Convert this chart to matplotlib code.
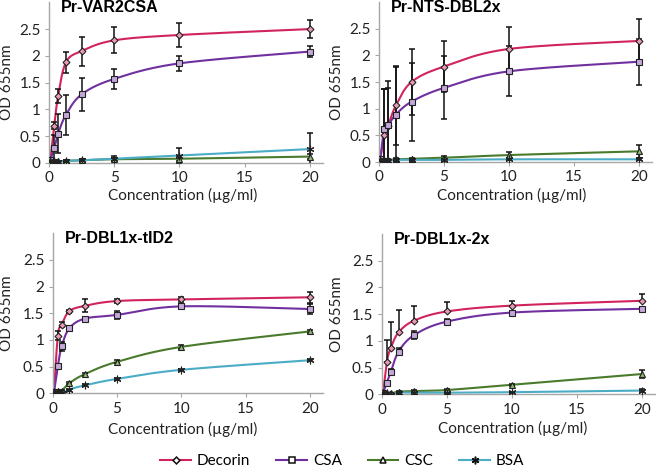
import numpy as np
import matplotlib
matplotlib.use('Agg')
import matplotlib.pyplot as plt
from matplotlib.lines import Line2D

plt.rcParams['font.family'] = ['Lato', 'DejaVu Sans']

conc = [0.1, 0.4, 0.7, 1.3, 2.5, 5, 10, 20]
series_names = ['Decorin', 'CSA', 'CSC', 'BSA']
panel_titles = ['Pr-VAR2CSA', 'Pr-NTS-DBL2x', 'Pr-DBL1x-tID2', 'Pr-DBL1x-2x']
yticks = [0, 0.5, 1, 1.5, 2, 2.5]
ytick_labels = ['0', '0.5', '1', '1.5', '2', '2.5']
xticks = [0, 5, 10, 15, 20]

# Pr-VAR2CSA
p1_decorin = [0.05, 0.70, 1.25, 1.88, 2.09, 2.29, 2.39, 2.50]
p1_decorin_err = [0.02, 0.07, 0.13, 0.20, 0.27, 0.24, 0.22, 0.17]
p1_csa = [0.05, 0.28, 0.55, 0.90, 1.28, 1.57, 1.86, 2.08]
p1_csa_err = [0.02, 0.25, 0.37, 0.37, 0.30, 0.19, 0.14, 0.11]
p1_csc = [0.04, 0.04, 0.03, 0.04, 0.05, 0.07, 0.08, 0.12]
p1_csc_err = [0.01, 0.01, 0.01, 0.02, 0.02, 0.03, 0.04, 0.05]
p1_bsa = [0.04, 0.03, 0.01, 0.04, 0.05, 0.08, 0.14, 0.26]
p1_bsa_err = [0.01, 0.01, 0.01, 0.02, 0.03, 0.05, 0.14, 0.30]

# Pr-NTS-DBL2x
p2_decorin = [0.05, 0.50, 0.68, 1.06, 1.50, 1.79, 2.12, 2.27]
p2_decorin_err = [0.02, 0.87, 0.84, 0.74, 0.62, 0.48, 0.42, 0.41]
p2_csa = [0.05, 0.62, 0.69, 0.89, 1.13, 1.39, 1.70, 1.88]
p2_csa_err = [0.02, 0.75, 0.70, 0.89, 0.73, 0.59, 0.47, 0.43]
p2_csc = [0.04, 0.04, 0.04, 0.05, 0.06, 0.08, 0.13, 0.20]
p2_csc_err = [0.01, 0.01, 0.01, 0.02, 0.02, 0.03, 0.05, 0.12]
p2_bsa = [0.04, 0.04, 0.02, 0.04, 0.04, 0.04, 0.05, 0.05]
p2_bsa_err = [0.01, 0.01, 0.01, 0.02, 0.02, 0.02, 0.02, 0.02]

# Pr-DBL1x-tID2
p3_decorin = [0.02, 1.08, 1.29, 1.54, 1.64, 1.73, 1.76, 1.80]
p3_decorin_err = [0.01, 0.08, 0.05, 0.03, 0.12, 0.03, 0.05, 0.10]
p3_csa = [0.02, 0.51, 0.88, 1.22, 1.40, 1.47, 1.63, 1.58]
p3_csa_err = [0.01, 0.03, 0.08, 0.05, 0.04, 0.08, 0.04, 0.10]
p3_csc = [0.02, 0.05, 0.05, 0.19, 0.36, 0.59, 0.87, 1.16]
p3_csc_err = [0.01, 0.02, 0.02, 0.02, 0.03, 0.03, 0.03, 0.03]
p3_bsa = [0.02, 0.03, 0.00, 0.07, 0.15, 0.27, 0.44, 0.62]
p3_bsa_err = [0.01, 0.01, 0.01, 0.01, 0.02, 0.02, 0.02, 0.02]

# Pr-DBL1x-2x
p4_decorin = [0.03, 0.61, 0.87, 1.16, 1.38, 1.55, 1.66, 1.75]
p4_decorin_err = [0.01, 0.40, 0.48, 0.42, 0.27, 0.17, 0.08, 0.12]
p4_csa = [0.02, 0.22, 0.42, 0.80, 1.11, 1.36, 1.53, 1.60]
p4_csa_err = [0.01, 0.03, 0.05, 0.07, 0.08, 0.05, 0.03, 0.04]
p4_csc = [0.02, 0.02, 0.02, 0.05, 0.06, 0.08, 0.18, 0.38]
p4_csc_err = [0.01, 0.01, 0.01, 0.02, 0.02, 0.02, 0.02, 0.07]
p4_bsa = [0.02, 0.02, -0.02, 0.03, 0.03, 0.03, 0.04, 0.07]
p4_bsa_err = [0.01, 0.01, 0.01, 0.01, 0.01, 0.01, 0.01, 0.02]

panels = [
    [(p1_decorin, p1_decorin_err), (p1_csa, p1_csa_err), (p1_csc, p1_csc_err), (p1_bsa, p1_bsa_err)],
    [(p2_decorin, p2_decorin_err), (p2_csa, p2_csa_err), (p2_csc, p2_csc_err), (p2_bsa, p2_bsa_err)],
    [(p3_decorin, p3_decorin_err), (p3_csa, p3_csa_err), (p3_csc, p3_csc_err), (p3_bsa, p3_bsa_err)],
    [(p4_decorin, p4_decorin_err), (p4_csa, p4_csa_err), (p4_csc, p4_csc_err), (p4_bsa, p4_bsa_err)],
]

line_colors = ['#D2245C', '#7030A0', '#4A7A2C', '#4BACC6']
face_colors = ['#E89AB4', '#C4A8DC', '#8FB872', '#000000']
markers = ['D', 's', '^', (6, 2, 0)]
msizes = [3.5, 4.5, 4.5, 5.5]


def smooth(x, y, n=24):
    # excel style smoothed line (bezier through points)
    p = np.column_stack([x, y]).astype(float)
    out = []
    for i in range(len(p) - 1):
        p0 = p[i - 1] if i > 0 else p[i]
        p1, p2 = p[i], p[i + 1]
        p3 = p[i + 2] if i + 2 < len(p) else p[i + 1]
        c1 = p1 + (p2 - p0) / 6
        c2 = p2 - (p3 - p1) / 6
        t = np.linspace(0, 1, n)[:, None]
        seg = (1-t)**3*p1 + 3*(1-t)**2*t*c1 + 3*(1-t)*t**2*c2 + t**3*p2
        out.append(seg if i == 0 else seg[1:])
    out = np.vstack(out)
    return out[:, 0], out[:, 1]


W, H = 656, 471
fig = plt.figure(figsize=(W/100, H/100), dpi=100)

# left, axis-bottom y (px from top), width, height
boxes = [(49, 163, 274, 160.7), (379, 162, 273, 160),
         (52.7, 393.3, 270, 160), (381.7, 394.3, 273.6, 160.3)]
ylab_x = [7, 337, 7, 337]
xlab = [(183, 195), (512, 195), (183, 429), (513, 428)]

for k, (l, b, w, h) in enumerate(boxes):
    ax = fig.add_axes([l/W, (H-b)/H, w/W, h/H])
    for j, (vals, err) in enumerate(panels[k]):
        sx, sy = smooth(conc, vals)
        ax.plot(sx, sy, color=line_colors[j], lw=1.5, zorder=2)
        yerr = err
        if k == 3 and j == 0:
            yerr = [np.zeros(len(err)), err]
        ax.errorbar(conc, vals, yerr=yerr, fmt='none', ecolor='#111111',
                    elinewidth=1.1, capsize=2.5, capthick=1.1, zorder=3)
        ax.plot(conc, vals, ls='none', marker=markers[j], ms=msizes[j],
                mfc=face_colors[j], mec='#222222', mew=0.8, zorder=4)
    ax.set_xlim(0, 21)
    ax.set_ylim(0, 3)
    ax.set_xticks(xticks)
    ax.set_yticks(yticks)
    ax.set_yticklabels(ytick_labels)
    for s in ['top', 'right']:
        ax.spines[s].set_visible(False)
    for s in ['left', 'bottom']:
        ax.spines[s].set_color('#A6A6A6')
        ax.spines[s].set_linewidth(1)
    ax.tick_params(direction='out', length=3, color='#A6A6A6', labelsize=11,
                   labelcolor='#222222', pad=3)
    ax.text(0.045, 0.94, panel_titles[k], transform=ax.transAxes, ha='left',
            va='baseline', fontsize=11.5, fontweight='bold', family='Liberation Sans')
    fig.text(ylab_x[k]/W, (H-(b - h/2))/H, 'OD 655nm', rotation=90,
             ha='center', va='center', fontsize=11, color='#222222')
    fig.text(xlab[k][0]/W, (H-xlab[k][1])/H, 'Concentration (µg/ml)',
             ha='center', va='center', fontsize=11, color='#222222')

handles = [Line2D([], [], color=line_colors[j], lw=1.5, marker=markers[j],
                  ms=msizes[j], mfc='white' if j < 3 else 'black',
                  mec='#111111', mew=1.1) for j in range(4)]
fig.legend(handles, series_names, loc='center', bbox_to_anchor=(0.522, (H-461)/H),
           ncol=4, frameon=False, fontsize=11, handlelength=2.0,
           columnspacing=1.7, handletextpad=0.4)

fig.savefig('out.png', dpi=100)
